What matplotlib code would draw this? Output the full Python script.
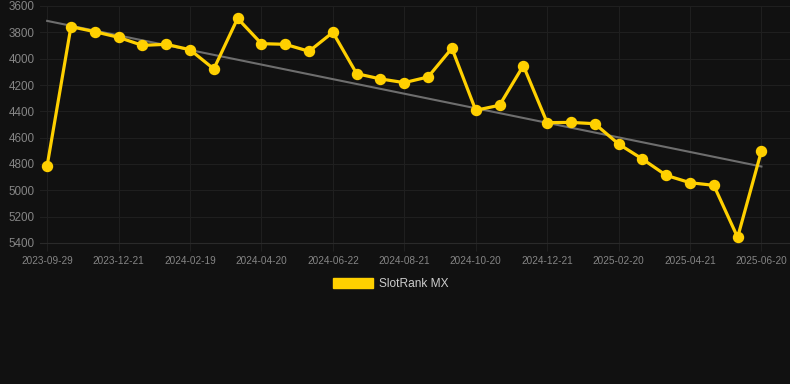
import matplotlib
matplotlib.use("Agg")
import matplotlib.pyplot as plt
import matplotlib.patches as mpatches
import numpy as np

# rank values per snapshot (lower is better, axis inverted)
ranks = [4813, 3757, 3795, 3838, 3899, 3891, 3932, 4078, 3694, 3886,
         3891, 3944, 3800, 4114, 4154, 4182, 4139, 3921, 4392, 4354,
         4053, 4486, 4484, 4494, 4648, 4762, 4886, 4942, 4962, 5357,
         4701]
tick_labels = ["2023-09-29", "2023-12-21", "2024-02-19", "2024-04-20",
               "2024-06-22", "2024-08-21", "2024-10-20", "2024-12-21",
               "2025-02-20", "2025-04-21", "2025-06-20"]
y_ticks = [3600, 3800, 4000, 4200, 4400, 4600, 4800, 5000, 5200, 5400]
series_name = "SlotRank MX"

BG = "#111111"
GOLD = "#FFD000"
GRID = "#1f1f1f"

x = np.arange(len(ranks))
slope, intercept = np.polyfit(x, ranks, 1)
trend = slope * x + intercept

fig = plt.figure(figsize=(7.9, 3.84), dpi=100, facecolor=BG)
ax = fig.add_axes([40 / 790, 1 - 243 / 384, 1 - 40 / 790, (243 - 6) / 384])
ax.set_facecolor(BG)

ax.plot([x[0], x[-1]], [trend[0], trend[-1]], color="#6e6e6e", lw=1.5, zorder=2)
ax.plot(x, ranks, color=GOLD, lw=2.3, marker="o", ms=7.2,
        markerfacecolor=GOLD, markeredgecolor=GOLD, zorder=3)

ax.set_ylim(5400, 3600)
ax.set_xlim(-0.3, 31.2)
ax.set_yticks(y_ticks)
ax.set_xticks(x[::3])
ax.set_xticklabels(tick_labels)

for side in ["top", "right", "left"]:
    ax.spines[side].set_visible(False)
ax.spines["bottom"].set_color("#2a2a2a")

ax.grid(True, color=GRID, lw=0.8)
ax.set_axisbelow(True)
ax.tick_params(axis="y", length=0, pad=4, labelsize=8.4, labelcolor="#858585")
ax.tick_params(axis="x", length=6, color=GRID, pad=3, labelsize=7.2,
               labelcolor="#858585")
for lbl in ax.get_xticklabels() + ax.get_yticklabels():
    lbl.set_fontfamily("Liberation Sans")

handle = mpatches.Patch(color=GOLD, label=series_name)
leg = fig.legend(handles=[handle], loc="center", bbox_to_anchor=(0.494, 0.26),
                 frameon=False, handlelength=3.35, handleheight=0.95,
                 handletextpad=0.5,
                 prop={"family": "Liberation Sans", "size": 8.6})
for t in leg.get_texts():
    t.set_color("#cccccc")

fig.savefig("out.png", dpi=100, facecolor=BG)
